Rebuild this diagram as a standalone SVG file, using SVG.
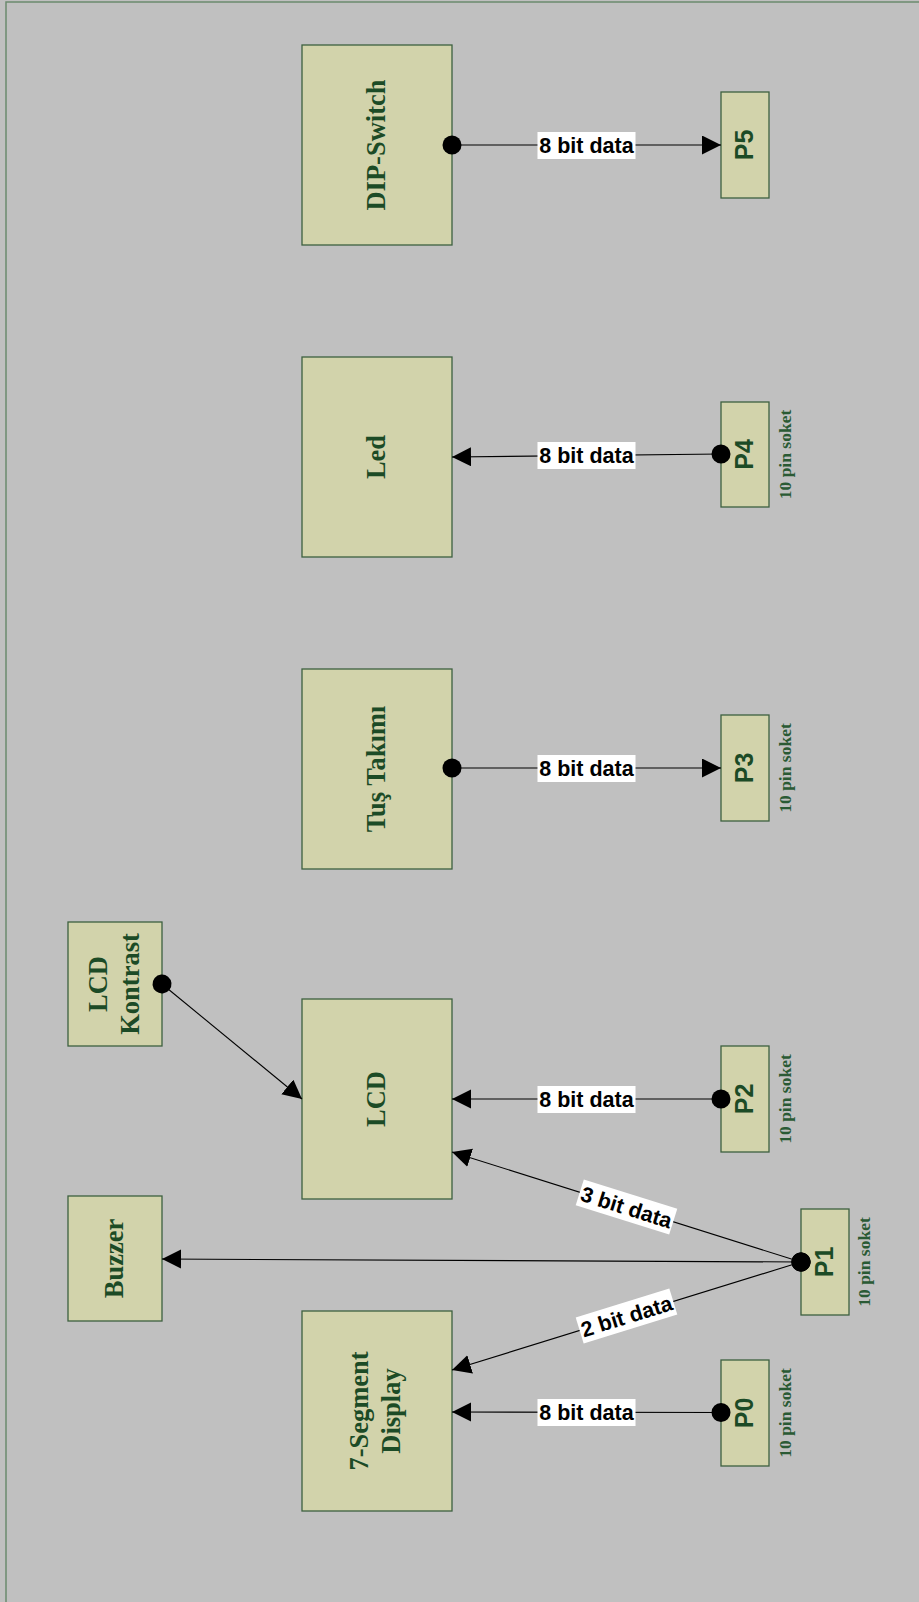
<svg xmlns="http://www.w3.org/2000/svg" width="919" height="1602" viewBox="0 0 919 1602">
  <style>
    .box { fill: #d2d3ab; stroke: #3d603f; stroke-width: 1.3; }
    .ntxt { font-family: "Liberation Serif", "Times New Roman", serif; font-weight: bold; font-size: 26.5px; fill: #1c4b26; text-anchor: middle; }
    .ptxt { font-family: "Liberation Sans", Arial, sans-serif; font-weight: bold; font-size: 25px; fill: #1c4b26; text-anchor: middle; }
    .sock { font-family: "Liberation Serif", "Times New Roman", serif; font-weight: bold; font-size: 17.5px; fill: #2a5a34; text-anchor: middle; }
    .conn { stroke: #000; stroke-width: 1.1; fill: none; marker-start: url(#dot); marker-end: url(#arrow); }
    .lbg { fill: #fff; }
    .ltxt { font-family: "Liberation Sans", Arial, sans-serif; font-weight: bold; font-size: 21.5px; fill: #000; text-anchor: middle; }
  </style>
  <defs>
    <marker id="arrow" markerUnits="userSpaceOnUse" markerWidth="20" markerHeight="20" refX="19" refY="9.5" orient="auto" viewBox="0 0 20 20">
      <path d="M0,0 L19,9.5 L0,19 z" fill="#000"/>
    </marker>
    <marker id="dot" markerUnits="userSpaceOnUse" markerWidth="20" markerHeight="20" refX="10" refY="10" orient="auto" viewBox="0 0 20 20">
      <circle cx="10" cy="10" r="9.5" fill="#000"/>
    </marker>
  </defs>

  <rect x="0" y="0" width="919" height="1602" fill="#c0c0c0"/>
  <rect x="6" y="2" width="930" height="1620" fill="none" stroke="#6b8a6e" stroke-width="1.5"/>

  <g id="node-dipswitch">
    <rect class="box" x="302" y="45" width="150" height="200"/>
    <text class="ntxt" transform="translate(377,145) rotate(-90)" y="8">DIP-Switch</text>
  </g>
  <g id="node-p5">
    <rect class="box" x="721" y="92" width="48" height="106"/>
    <text class="ptxt" transform="translate(745,145) rotate(-90)" y="8">P5</text>
  </g>

  <g id="node-led">
    <rect class="box" x="302" y="357" width="150" height="200"/>
    <text class="ntxt" transform="translate(377,457) rotate(-90)" y="8">Led</text>
  </g>
  <g id="node-p4">
    <rect class="box" x="721" y="402" width="48" height="105"/>
    <text class="ptxt" transform="translate(745,454.5) rotate(-90)" y="8">P4</text>
    <text class="sock" transform="translate(791,454.5) rotate(-90)">10 pin soket</text>
  </g>

  <g id="node-tus">
    <rect class="box" x="302" y="669" width="150" height="200"/>
    <text class="ntxt" transform="translate(377,769) rotate(-90)" y="8">Tuş Takımı</text>
  </g>
  <g id="node-p3">
    <rect class="box" x="721" y="715" width="48" height="106"/>
    <text class="ptxt" transform="translate(745,768) rotate(-90)" y="8">P3</text>
    <text class="sock" transform="translate(791,768) rotate(-90)">10 pin soket</text>
  </g>

  <g id="node-lcdkontrast">
    <rect class="box" x="68" y="922" width="94" height="124"/>
    <text class="ntxt" transform="translate(115,984) rotate(-90)"><tspan x="0" y="-8">LCD</tspan><tspan x="0" y="24">Kontrast</tspan></text>
  </g>

  <g id="node-lcd">
    <rect class="box" x="302" y="999" width="150" height="200"/>
    <text class="ntxt" transform="translate(377,1099) rotate(-90)" y="8">LCD</text>
  </g>
  <g id="node-p2">
    <rect class="box" x="721" y="1046" width="48" height="106"/>
    <text class="ptxt" transform="translate(745,1099) rotate(-90)" y="8">P2</text>
    <text class="sock" transform="translate(791,1099) rotate(-90)">10 pin soket</text>
  </g>

  <g id="node-buzzer">
    <rect class="box" x="68" y="1196" width="94" height="125"/>
    <text class="ntxt" transform="translate(115,1258.5) rotate(-90)" y="8">Buzzer</text>
  </g>

  <g id="node-p1">
    <rect class="box" x="801" y="1209" width="48" height="106"/>
    <text class="ptxt" transform="translate(825,1262) rotate(-90)" y="8">P1</text>
    <text class="sock" transform="translate(870,1262) rotate(-90)">10 pin soket</text>
  </g>

  <g id="node-7seg">
    <rect class="box" x="302" y="1311" width="150" height="200"/>
    <text class="ntxt" transform="translate(377,1411) rotate(-90)"><tspan x="0" y="-9">7-Segment</tspan><tspan x="0" y="23">Display</tspan></text>
  </g>

  <g id="node-p0">
    <rect class="box" x="721" y="1360" width="48" height="106"/>
    <text class="ptxt" transform="translate(745,1413) rotate(-90)" y="8">P0</text>
    <text class="sock" transform="translate(791,1413) rotate(-90)">10 pin soket</text>
  </g>

  <g id="connectors">
    <line class="conn" x1="452" y1="145" x2="721" y2="145"/>
    <line class="conn" x1="721" y1="454" x2="452" y2="457"/>
    <line class="conn" x1="452" y1="768" x2="721" y2="768"/>
    <line class="conn" x1="162" y1="984" x2="302" y2="1099"/>
    <line class="conn" x1="721" y1="1099" x2="452" y2="1099"/>
    <line class="conn" x1="801" y1="1262" x2="452" y2="1152"/>
    <line class="conn" x1="801" y1="1262" x2="162" y2="1259"/>
    <line class="conn" x1="801" y1="1262" x2="452" y2="1370"/>
    <line class="conn" x1="721" y1="1412.5" x2="452" y2="1412"/>

    <g id="label-p5">
      <rect class="lbg" x="537.5" y="132" width="98" height="27"/>
      <text class="ltxt" x="586.5" y="153.3">8 bit data</text>
    </g>
    <g id="label-p4">
      <rect class="lbg" x="537.5" y="442" width="98" height="27"/>
      <text class="ltxt" x="586.5" y="463.3">8 bit data</text>
    </g>
    <g id="label-p3">
      <rect class="lbg" x="537.5" y="755" width="98" height="27"/>
      <text class="ltxt" x="586.5" y="776.3">8 bit data</text>
    </g>
    <g id="label-p2">
      <rect class="lbg" x="537.5" y="1086" width="98" height="27"/>
      <text class="ltxt" x="586.5" y="1107.3">8 bit data</text>
    </g>
    <g id="label-p1-lcd" transform="translate(626.5,1207) rotate(17.5)">
      <rect class="lbg" x="-49" y="-13.5" width="98" height="27"/>
      <text class="ltxt" x="0" y="7.8">3 bit data</text>
    </g>
    <g id="label-p1-7seg" transform="translate(626.5,1316) rotate(-17.2)">
      <rect class="lbg" x="-49" y="-13.5" width="98" height="27"/>
      <text class="ltxt" x="0" y="7.8">2 bit data</text>
    </g>
    <g id="label-p0">
      <rect class="lbg" x="537.5" y="1399" width="98" height="27"/>
      <text class="ltxt" x="586.5" y="1420.3">8 bit data</text>
    </g>
  </g>
</svg>
